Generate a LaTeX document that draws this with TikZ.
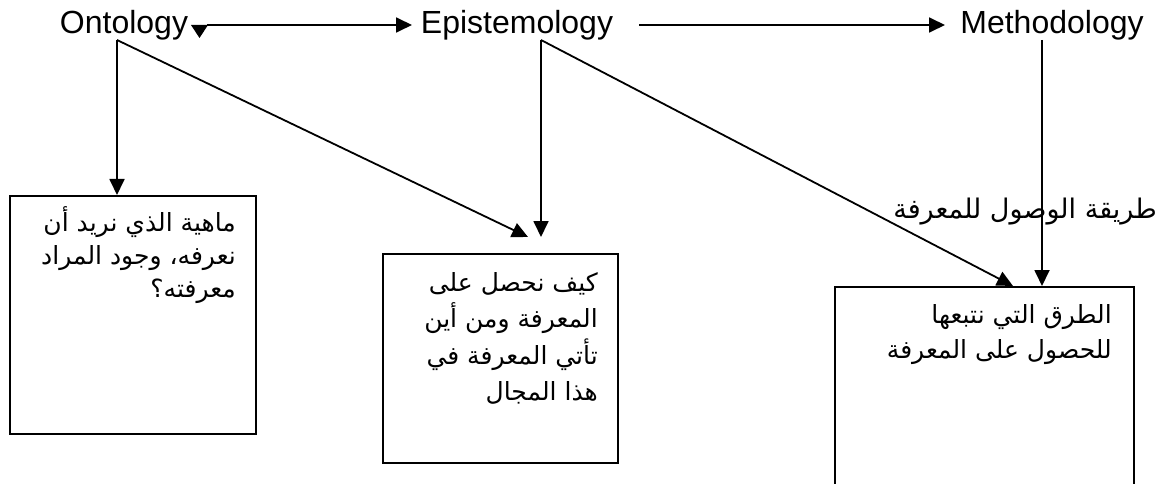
\documentclass[tikz,border=0pt]{standalone}
\usepackage{fontspec}
\setmainfont{Liberation Sans}
\newfontfamily\arabicfont[Script=Arabic]{DejaVu Sans}
\TeXXeTstate=1
\usetikzlibrary{arrows.meta}
\begin{document}
\begin{tikzpicture}[x=1pt,y=-1pt,
  conn/.style={line width=1.8pt,-{Triangle[length=16pt,width=15pt]}},
  plain/.style={line width=1.8pt},
  term/.style={font=\fontsize{32}{38}\selectfont,inner sep=0pt,anchor=base},
  boxnode/.style={draw,line width=1.8pt,anchor=north west,inner sep=0pt},
  artext/.style={align=right,anchor=north east,inner sep=0pt}]
\clip (0,0) rectangle (1168,484);
\fill[white] (0,0) rectangle (1168,484);
% terms
\node[term] (onto) at (124,34) {Ontology};
\node[term] (epis) at (517,34) {Epistemology};
\node[term] (meth) at (1052,34) {Methodology};
% junctions
\coordinate (oj) at (117,40);
\coordinate (ej) at (541,40);
\coordinate (mj) at (1042,40);
% boxes
\node[boxnode,minimum width=246pt,minimum height=238pt] (b1) at (9,195) {};
\node[boxnode,minimum width=235pt,minimum height=209pt] (b2) at (382,253) {};
\node[boxnode,minimum width=299pt,minimum height=230pt] (b3) at (834,286) {};
% box texts
\node[artext,font=\arabicfont\fontsize{25}{33}\selectfont] (t1) at (236,206) {\beginR ماهية الذي نريد أن\endR\\ \beginR نعرفه، وجود المراد\endR\\ \beginR معرفته؟\endR};
\node[artext,font=\arabicfont\fontsize{25}{36.5}\selectfont] (t2) at (598,272) {\beginR كيف نحصل على\endR\\ \beginR المعرفة ومن أين\endR\\ \beginR تأتي المعرفة في\endR\\ \beginR هذا المجال\endR};
\node[artext,font=\arabicfont\fontsize{25}{35}\selectfont] (t3) at (1112,304) {\beginR الطرق التي نتبعها\endR\\ \beginR للحصول على المعرفة\endR};
\node[artext,anchor=east,font=\arabicfont\fontsize{27}{35}\selectfont] (lab) at (1157,212) {\beginR طريقة الوصول للمعرفة\endR};
% top arrows
\coordinate (s1) at (207,25);
\coordinate (e1) at (412,25);
\coordinate (s2) at (639,25);
\coordinate (e2) at (945,25);
\draw[conn] (s1) -- (e1);
\fill (191,25) -- (208,25) -- (199.5,38) -- cycle;
\draw[conn] (s2) -- (e2);
% branches
\draw[conn] (oj) -- (oj |- b1.north);
\coordinate (d1) at (528,237);
\draw[conn] (oj) -- (d1);
\coordinate (d2) at (541,237);
\draw[conn] (ej) -- (d2);
\coordinate (d3) at (1013,286);
\draw[conn] (ej) -- (d3);
\draw[conn] (mj) -- (mj |- b3.north);
\end{tikzpicture}
\end{document}
